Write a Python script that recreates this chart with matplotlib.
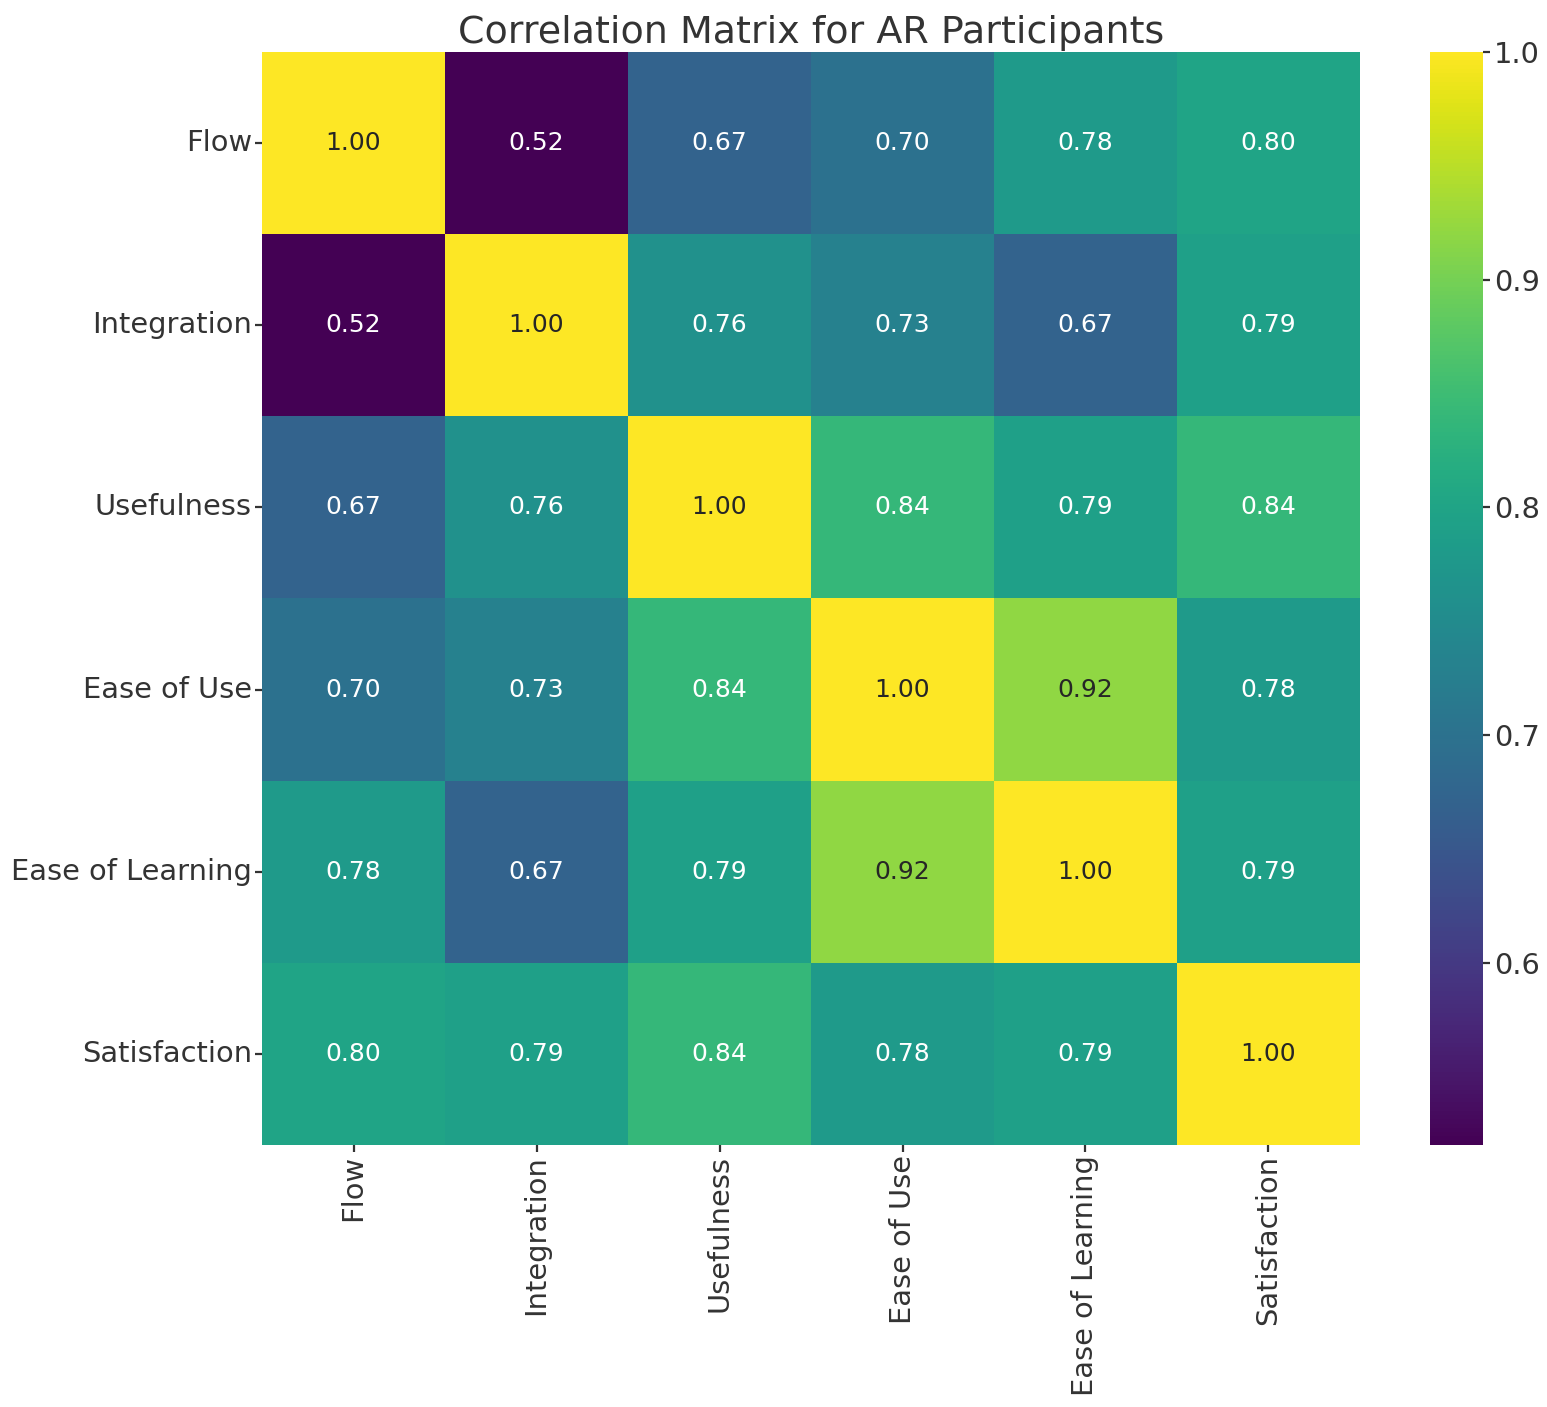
import matplotlib
matplotlib.use("Agg")
import matplotlib.pyplot as plt
import numpy as np
import pandas as pd
import seaborn as sns

labels = ["Flow", "Integration", "Usefulness", "Ease of Use", "Ease of Learning", "Satisfaction"]

flow = [1.00, 0.52, 0.67, 0.70, 0.78, 0.80]
integration = [0.52, 1.00, 0.76, 0.73, 0.67, 0.79]
usefulness = [0.67, 0.76, 1.00, 0.84, 0.79, 0.84]
ease_of_use = [0.70, 0.73, 0.84, 1.00, 0.92, 0.78]
ease_of_learning = [0.78, 0.67, 0.79, 0.92, 1.00, 0.79]
satisfaction = [0.80, 0.79, 0.84, 0.78, 0.79, 1.00]

corr = pd.DataFrame([flow, integration, usefulness, ease_of_use, ease_of_learning, satisfaction],
                    index=labels, columns=labels)

plt.rcParams['text.color'] = '#333333'
plt.rcParams['xtick.color'] = '#333333'
plt.rcParams['ytick.color'] = '#333333'

fig = plt.figure(figsize=(7.735, 7.035), dpi=200)
ax = fig.add_axes([0.1694, 0.1862, 0.7097, 0.777])
cax = fig.add_axes([0.9244, 0.1862, 0.0343, 0.777])

sns.heatmap(corr, annot=True, fmt=".2f", cmap="viridis", ax=ax, cbar_ax=cax,
            annot_kws={"size": 9})
ax.set_title("Correlation Matrix for AR Participants", fontsize=13.7, pad=3)
ax.tick_params(axis='both', labelsize=10.4, length=2.5, pad=1.2)
ax.set_xticklabels(labels, rotation=90)
ax.set_yticklabels(labels, rotation=0)
cax.tick_params(labelsize=10.4, length=2.5, pad=1.5)

fig.savefig("out.png", dpi=200)
